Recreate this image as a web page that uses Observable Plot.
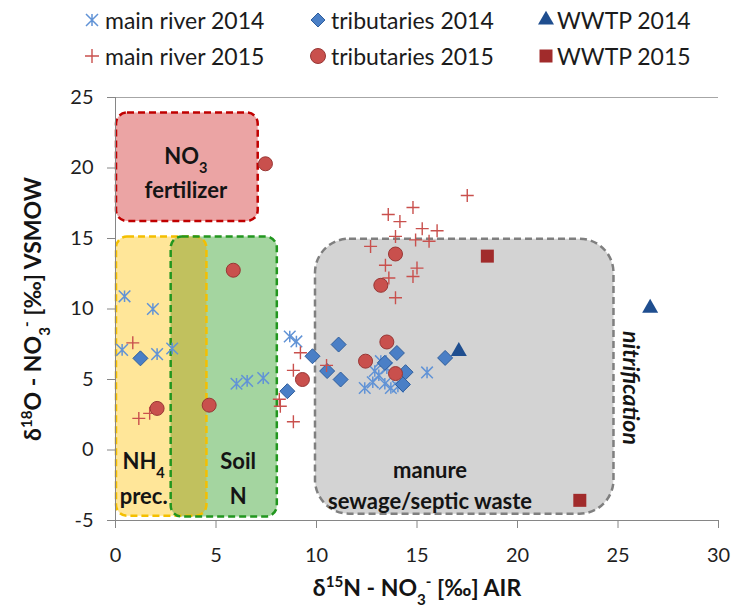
<!DOCTYPE html>
<html>
<head>
<meta charset="utf-8">
<script src="https://cdn.jsdelivr.net/npm/d3@7"></script>
<script src="https://cdn.jsdelivr.net/npm/@observablehq/plot@0.6"></script>
<style>
  html, body { margin: 0; padding: 0; background: #fff; }
  body { width: 738px; height: 609px; overflow: hidden; font-family: Lato, "Open Sans", sans-serif; }
  #legend { position: relative; width: 738px; height: 80px; }
  #legend .item { position: absolute; display: flex; align-items: center; height: 30px; font-size: 23px; color: #1b1b1b; white-space: nowrap; }
  #legend svg { position: absolute; overflow: visible; }
  #chart svg { display: block; }
</style>
</head>
<body>
<div id="legend"></div>
<div id="chart"></div>
<script>
// δ15N and δ18O of nitrate (‰), sampled in 2014 and 2015

const mainRiver2014X = [0.45, 1.86, 0.33, 2.07, 2.82, 6.02, 6.55, 7.35, 8.67, 9.0,
                        12.4, 12.8, 13.1, 13.4, 13.7, 14.05, 13.2, 13.5, 12.9, 15.5];
const mainRiver2014Y = [10.9, 10.0, 7.1, 6.8, 7.2, 4.7, 4.9, 5.1, 8.05, 7.7,
                        4.4, 4.8, 5.3, 4.7, 4.4, 4.5, 6.3, 5.8, 5.6, 5.5];

const tributaries2014X = [1.24, 8.55, 9.8, 10.53, 11.1, 11.2, 13.4, 14.0, 14.43, 14.3, 16.4];
const tributaries2014Y = [6.5, 4.17, 6.65, 5.6, 7.48, 5.0, 6.18, 6.88, 5.52, 4.65, 6.53];

const wwtp2014X = [17.08, 26.6];
const wwtp2014Y = [7.0, 10.07];

const mainRiver2015X = [0.86, 1.16, 1.7, 8.85, 8.15, 8.2, 8.85, 9.2, 10.5,
                        17.5, 14.8, 13.57, 14.15, 15.26, 16.0, 13.93, 14.93, 15.6,
                        12.69, 13.43, 15.0, 14.8, 13.6, 13.93];
const mainRiver2015Y = [7.6, 2.24, 2.6, 5.65, 3.6, 3.1, 2.0, 6.9, 6.0,
                        18.05, 17.2, 16.7, 16.2, 15.7, 15.55, 15.15, 14.9, 14.8,
                        14.44, 13.1, 12.9, 12.3, 12.2, 10.8];

const tributaries2015X = [7.46, 5.86, 2.07, 4.66, 9.3, 13.93, 13.2, 13.5, 12.44, 13.93];
const tributaries2015Y = [20.3, 12.75, 2.95, 3.18, 5.0, 13.9, 11.68, 7.66, 6.3, 5.42];

const wwtp2015X = [18.5, 23.1];
const wwtp2015Y = [13.75, -3.57];

// Typical source ranges: [δ15N min, max] and [δ18O min, max]
const regionNames = ["NO3 fertilizer", "NH4 prec.", "Soil N", "manure sewage/septic waste"];
const regionN15 = [[0.05, 7.1], [0.05, 4.55], [2.77, 8.05], [9.95, 24.8]];
const regionO18 = [[16.2, 23.9], [-4.7, 15.1], [-4.75, 15.1], [-4.55, 14.95]];

// Region captions (one line each) and their anchor in data units
const captionText = ["NO_{3}", "fertilizer", "NH_{4}", "prec.", "Soil", "N", "manure", "sewage/septic waste"];
const captionN15  = [3.5, 3.5, 1.4, 1.4, 6.1, 6.1, 15.65, 15.65];
const captionO18  = [20.8, 18.4, -0.85, -3.3, -0.85, -3.3, -1.5, -3.65];

const xTicks = [0, 5, 10, 15, 20, 25, 30];
const yTicks = [-5, 0, 5, 10, 15, 20, 25];

const xTitle = "δ^{15}N - NO_{3}^{-} [‰] AIR";
const yTitle = "δ^{18}O - NO_{3}^{-} [‰] VSMOW";

// ---- marker shapes (size = π r², so r is the half-extent in px) ----
const half = size => Math.sqrt(size / Math.PI);
const starSym = { draw(c, s) { const r = half(s);
  c.moveTo(0, -r); c.lineTo(0, r);
  c.moveTo(-r, -r); c.lineTo(r, r);
  c.moveTo(-r, r); c.lineTo(r, -r); } };
const plusSym = { draw(c, s) { const r = half(s);
  c.moveTo(-r, 0); c.lineTo(r, 0); c.moveTo(0, -r); c.lineTo(0, r); } };
const diamondSym = { draw(c, s) { const r = half(s);
  c.moveTo(0, -r); c.lineTo(r, 0); c.lineTo(0, r); c.lineTo(-r, 0); c.closePath(); } };
const triangleSym = { draw(c, s) { const r = half(s), h = r * Math.sqrt(3);
  c.moveTo(0, -2 * h / 3); c.lineTo(r, h / 3); c.lineTo(-r, h / 3); c.closePath(); } };
const squareSym = { draw(c, s) { const r = half(s); c.rect(-r, -r, 2 * r, 2 * r); } };
const circleSym = { draw(c, s) { const r = half(s); c.moveTo(r, 0); c.arc(0, 0, r, 0, 2 * Math.PI); } };

const series = [
  {name: "main river 2014", xs: mainRiver2014X, ys: mainRiver2014Y, symbol: starSym, r: 5.8, lr: 6,
   fill: "none", stroke: "#6193D6", strokeWidth: 1.5},
  {name: "tributaries 2014", xs: tributaries2014X, ys: tributaries2014Y, symbol: diamondSym, r: 7.5, lr: 7,
   fill: "#4A7FC6", stroke: "#2F5E9C", strokeWidth: 1},
  {name: "WWTP 2014", xs: wwtp2014X, ys: wwtp2014Y, symbol: triangleSym, r: 8, lr: 8,
   fill: "#1F4E8F", stroke: "none", strokeWidth: 0},
  {name: "main river 2015", xs: mainRiver2015X, ys: mainRiver2015Y, symbol: plusSym, r: 6.5, lr: 7,
   fill: "none", stroke: "#C9504D", strokeWidth: 1.4},
  {name: "tributaries 2015", xs: tributaries2015X, ys: tributaries2015Y, symbol: circleSym, r: 7, lr: 7.5,
   fill: "#C9504D", stroke: "#983634", strokeWidth: 1},
  {name: "WWTP 2015", xs: wwtp2015X, ys: wwtp2015Y, symbol: squareSym, r: 6.5, lr: 6.5,
   fill: "#A12B2B", stroke: "none", strokeWidth: 0}
];

const regionStyle = [
  {fill: "#EBA4A4", stroke: "#C00000", rx: 11},
  {fill: "#FFE699", stroke: "#F4BF00", rx: 11},
  {fill: "#A4D5A0", stroke: "#22961F", rx: 11},
  {fill: "#D3D3D3", stroke: "#7F7F7F", rx: 34}
];
const overlapFill = "#C1C15E";

const regions = regionNames.map((name, i) => ({
  name, x1: regionN15[i][0], x2: regionN15[i][1], y1: regionO18[i][0], y2: regionO18[i][1]
}));
// where the NH4 and soil-N ranges overlap
const overlap = [{
  x1: Math.max(regions[1].x1, regions[2].x1), x2: Math.min(regions[1].x2, regions[2].x2),
  y1: Math.max(regions[1].y1, regions[2].y1), y2: Math.min(regions[1].y2, regions[2].y2)
}];

const captions = captionText.map((text, i) => ({text, x: captionN15[i], y: captionO18[i]}));
const rectOpts = {x1: "x1", x2: "x2", y1: "y1", y2: "y2"};

const marks = [];
regions.forEach((d, i) => marks.push(Plot.rect([d], {...rectOpts, fill: regionStyle[i].fill, rx: regionStyle[i].rx})));
marks.push(Plot.rect(overlap, {...rectOpts, fill: overlapFill, rx: 11}));
regions.forEach((d, i) => marks.push(Plot.rect([d], {...rectOpts, fill: "none", stroke: regionStyle[i].stroke,
  strokeWidth: 2.5, strokeDasharray: "7,4", rx: regionStyle[i].rx})));

marks.push(
  Plot.ruleY([25], {stroke: "#A6A6A6", strokeWidth: 1}),
  Plot.ruleX([0], {stroke: "#868686", strokeWidth: 1}),
  Plot.ruleY([-5], {stroke: "#868686", strokeWidth: 1}),
  Plot.axisX(xTicks, {tickSize: 8, tickPadding: 19, stroke: "#868686", fill: "#1f1f1f",
    fontSize: 20, label: null, tickFormat: d => String(d)}),
  Plot.axisY(yTicks, {tickSize: 8, tickPadding: 14, stroke: "#868686", fill: "#1f1f1f",
    fontSize: 20, label: null, tickFormat: d => String(d)})
);

marks.push(Plot.text(captions, {x: "x", y: "y", text: "text", fontWeight: "bold", fontSize: 22, fill: "#141414"}));
marks.push(Plot.text(["nitrification"], {x: () => 25.62, y: () => 4.4, text: d => d, rotate: 90,
  fontWeight: "bold", fontStyle: "italic", fontSize: 23, fill: "#141414"}));

series.forEach(s => {
  const data = s.xs.map((x, i) => ({x, y: s.ys[i]}));
  marks.push(Plot.dot(data, {x: "x", y: "y", symbol: s.symbol, r: s.r, fill: s.fill,
    stroke: s.stroke, strokeWidth: s.strokeWidth}));
});

marks.push(
  Plot.text([xTitle], {x: () => 15, y: () => -5, dy: 68, text: d => d, fontWeight: "bold", fontSize: 23, fill: "#141414"}),
  Plot.text([yTitle], {x: () => 0, y: () => 10, dx: -82, text: d => d, rotate: -90, fontWeight: "bold", fontSize: 23, fill: "#141414"})
);

const chart = Plot.plot({
  width: 738,
  height: 529,
  marginTop: 17,
  marginRight: 20,
  marginBottom: 89,
  marginLeft: 115,
  style: {background: "transparent", fontFamily: "Lato, 'Open Sans', sans-serif", overflow: "visible"},
  x: {domain: [0, 30]},
  y: {domain: [-5, 25]},
  marks
});

// turn ^{…} and _{…} into super/subscripts
function richText(root) {
  d3.select(root).selectAll("text").each(function () {
    const t = this.textContent;
    if (!/[\^_]\{/.test(t)) return;
    const el = d3.select(this);
    el.text(null);
    const re = /([\^_])\{([^}]*)\}/g;
    let last = 0, m;
    while ((m = re.exec(t))) {
      if (m.index > last) el.append("tspan").text(t.slice(last, m.index));
      el.append("tspan").attr("baseline-shift", m[1] === "^" ? "super" : "sub")
        .attr("font-size", "66%").text(m[2]);
      last = re.lastIndex;
    }
    if (last < t.length) el.append("tspan").text(t.slice(last));
  });
}
richText(chart);
document.getElementById("chart").append(chart);

// legend: two rows, three columns
const legendMarkerX = [92, 318, 546];
const legendTextX = [105, 331, 557];
const legendRowY = [20, 56];
const legend = d3.select("#legend");
series.forEach((s, i) => {
  const col = i % 3, row = Math.floor(i / 3);
  const cx = legendMarkerX[col], cy = legendRowY[row];
  legend.append("svg").attr("width", 20).attr("height", 20)
    .style("left", (cx - 10) + "px").style("top", (cy - 10) + "px")
    .append("path").attr("transform", "translate(10,10)")
    .attr("d", d3.symbol(s.symbol, Math.PI * s.lr * s.lr)())
    .attr("fill", s.fill).attr("stroke", s.stroke).attr("stroke-width", s.strokeWidth);
  legend.append("div").attr("class", "item")
    .style("left", legendTextX[col] + "px").style("top", (cy - 15) + "px").text(s.name);
});
</script>
</body>
</html>
